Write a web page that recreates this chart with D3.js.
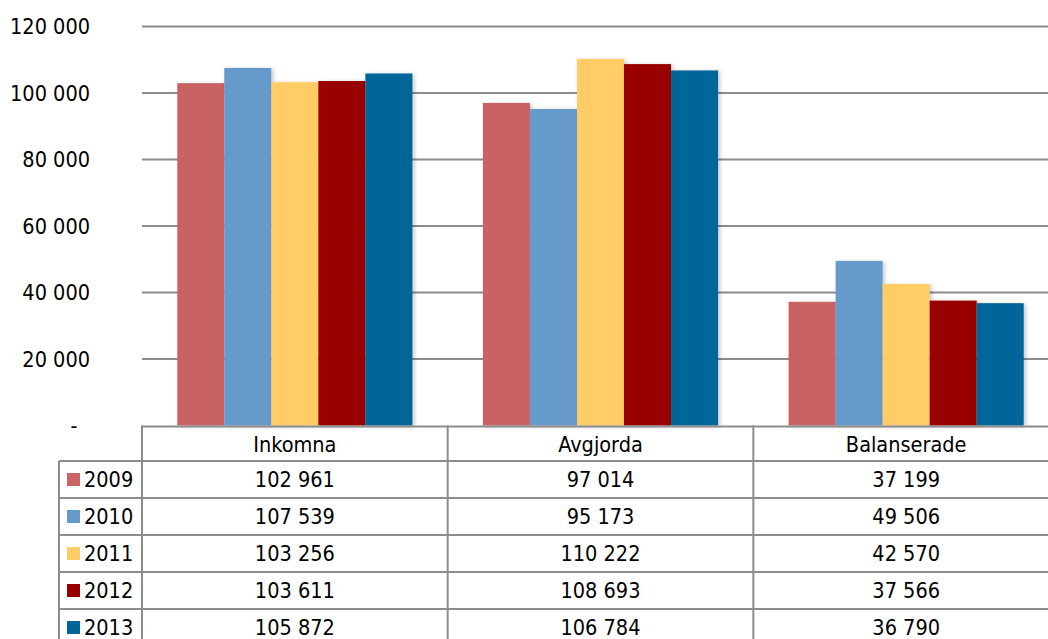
<!DOCTYPE html>
<html><head><meta charset="utf-8">
<script src="https://cdn.jsdelivr.net/npm/d3@7"></script>
<style>
html,body{margin:0;padding:0;background:#fff;}
svg text{font-family:"DejaVu Sans Condensed","DejaVu Sans",sans-serif;font-stretch:condensed;fill:#000;}
</style></head>
<body>
<svg id="c" width="1048" height="639"></svg>
<script>
const categories = ["Inkomna","Avgjorda","Balanserade"];
const years = ["2009","2010","2011","2012","2013"];
const v2009 = [102961, 97014, 37199];
const v2010 = [107539, 95173, 49506];
const v2011 = [103256, 110222, 42570];
const v2012 = [103611, 108693, 37566];
const v2013 = [105872, 106784, 36790];
const colors = ["#C96464","#6699CC","#FFCC66","#990000","#006699"];
const yTicks = [0,20000,40000,60000,80000,100000,120000];
const seriesValues = [v2009,v2010,v2011,v2012,v2013];

const fmt = v => v===0 ? "-" : d3.format(",")(v).replace(/,/g," ");

const svg = d3.select("#c");
const pLeft = 142, pRight = 1059, pTop = 26.5, base = 425.5;
const fs = 21.5;
const x = d3.scaleBand().domain(categories).range([pLeft,pRight]).paddingInner(0).paddingOuter(0);
const x1 = d3.scaleBand().domain(years).range([0,x.bandwidth()]).paddingOuter(0.75).paddingInner(0);
const y = d3.scaleLinear().domain([0,120000]).range([base,pTop]);

const defs = svg.append("defs");
const f = defs.append("filter").attr("id","sh").attr("x","-10%").attr("y","-10%").attr("width","130%").attr("height","130%");
f.append("feDropShadow").attr("dx",2).attr("dy",1).attr("stdDeviation",2).attr("flood-color","#000").attr("flood-opacity",0.22);

// gridlines
svg.append("g").selectAll("line").data(yTicks.filter(d=>d>0)).join("line")
  .attr("x1",pLeft).attr("x2",1048).attr("y1",d=>y(d)).attr("y2",d=>y(d))
  .attr("stroke","#8c8c8c").attr("stroke-width",2);

// y labels
svg.append("g").selectAll("text").data(yTicks).join("text")
  .attr("x",d=>d===0?74:90).attr("y",d=>y(d)).attr("dy","0.36em")
  .attr("text-anchor",d=>d===0?"middle":"end").attr("font-size",fs)
  .text(fmt);

// bars
const g = svg.append("g");
categories.forEach((c,ci)=>{
  g.append("g").attr("transform",`translate(${x(c)},0)`)
   .selectAll("rect").data(years.map((yr,i)=>({yr,v:seriesValues[i][ci],i}))).join("rect")
   .attr("x",d=>x1(d.yr)).attr("width",x1.bandwidth())
   .attr("y",d=>y(d.v)).attr("height",d=>base-y(d.v))
   .attr("fill",d=>colors[d.i]).attr("filter","url(#sh)");
});

// table
const rowH = 37, headH = 35.5, legL = 59;
const tg = svg.append("g");
const lc = "#8c8c8c";
tg.append("line").attr("x1",pLeft).attr("x2",1048).attr("y1",base+1).attr("y2",base+1).attr("stroke",lc).attr("stroke-width",2);
[pLeft, x("Avgjorda"), x("Balanserade")].forEach(xx=>{
  tg.append("line").attr("x1",xx).attr("x2",xx).attr("y1",base).attr("y2",639).attr("stroke",lc).attr("stroke-width",2);
});
tg.append("line").attr("x1",legL).attr("x2",legL).attr("y1",base+headH).attr("y2",639).attr("stroke",lc).attr("stroke-width",2);
years.forEach((yr,i)=>{
  const yy = base+headH+i*rowH;
  tg.append("line").attr("x1",legL).attr("x2",1048).attr("y1",yy).attr("y2",yy).attr("stroke",lc).attr("stroke-width",2);
});
tg.selectAll("text.h").data(categories).join("text").attr("class","h")
  .attr("x",d=>x(d)+x.bandwidth()/2).attr("y",base+headH/2+1).attr("dy","0.36em")
  .attr("text-anchor","middle").attr("font-size",fs).text(d=>d);
years.forEach((yr,i)=>{
  const cy = base+headH+i*rowH+rowH/2;
  tg.append("rect").attr("x",67).attr("y",cy-6.5).attr("width",13).attr("height",13).attr("fill",colors[i]);
  tg.append("text").attr("x",84).attr("y",cy).attr("dy","0.36em").attr("font-size",fs).text(yr);
  categories.forEach((c,ci)=>{
    tg.append("text").attr("x",x(c)+x.bandwidth()/2).attr("y",cy).attr("dy","0.36em")
      .attr("text-anchor","middle").attr("font-size",fs).text(fmt(seriesValues[i][ci]));
  });
});
</script>
</body></html>
